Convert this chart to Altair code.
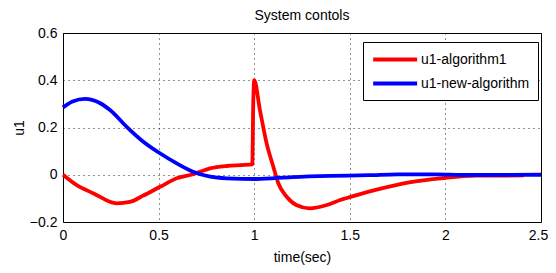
import altair as alt
import pandas as pd

# Series 1: u1-algorithm1 (red)
t_alg1 = [0, 0.07, 0.16, 0.28, 0.35, 0.42, 0.51, 0.595, 0.68, 0.77, 0.856, 0.93,
          0.99, 0.995, 1.0, 1.03, 1.065, 1.1, 1.126, 1.17, 1.22, 1.29, 1.38, 1.45,
          1.536, 1.64, 1.81, 1.99, 2.16, 2.41]
u_alg1 = [0, -0.043, -0.079, -0.121, -0.115, -0.088, -0.05, -0.015, 0.002, 0.027,
          0.037, 0.041, 0.044, 0.30, 0.40, 0.274, 0.133, 0.034, -0.036, -0.093,
          -0.128, -0.142, -0.128, -0.107, -0.086, -0.063, -0.032, -0.014, -0.004, -0.003]

# Series 2: u1-new-algorithm (blue)
t_new = [0, 0.05, 0.115, 0.19, 0.246, 0.333, 0.42, 0.507, 0.595, 0.68, 0.77, 0.856,
         1.01, 1.2, 1.4, 1.6, 1.75, 1.95, 2.1, 2.5]
u_new = [0.285, 0.31, 0.321, 0.305, 0.274, 0.203, 0.14, 0.091, 0.048, 0.013, -0.008,
         -0.015, -0.018, -0.01, -0.005, -0.002, 0.002, 0.002, -0.001, 0.0]

series_names = ["u1-algorithm1", "u1-new-algorithm"]
series_colors = ["#ff0000", "#0000ff"]

x_ticks = [0, 0.5, 1, 1.5, 2, 2.5]
y_ticks = [-0.2, 0, 0.2, 0.4, 0.6]

df = pd.concat([
    pd.DataFrame({"t": t_alg1, "u": u_alg1, "series": series_names[0], "k": range(len(t_alg1))}),
    pd.DataFrame({"t": t_new, "u": u_new, "series": series_names[1], "k": range(len(t_new))}),
])

FONT = "Liberation Sans"

chart = alt.Chart(df).mark_line(strokeWidth=3.8, interpolate="monotone").encode(
    x=alt.X("t:Q", scale=alt.Scale(domain=[0, 2.5], nice=False),
            axis=alt.Axis(title="time(sec)", values=x_ticks, format="~g",
                          labelOffset=alt.ExprRef("datum.value == 2.5 ? -3 : 0"))),
    y=alt.Y("u:Q", scale=alt.Scale(domain=[-0.2, 0.6], nice=False),
            axis=alt.Axis(title="u1", values=y_ticks, format="~g")),
    color=alt.Color("series:N",
                    scale=alt.Scale(domain=series_names, range=series_colors),
                    legend=alt.Legend(title=None, orient="none", legendX=300, legendY=9)),
    order="k:Q",
).properties(
    width=478, height=189,
    title=alt.TitleParams("System contols", fontSize=14, fontWeight="normal",
                          font=FONT, color="black", offset=3),
    autosize=alt.AutoSizeParams(type="none"),
    padding={"left": 55, "top": 25, "right": 7, "bottom": 43},
).configure_view(
    stroke="black", strokeWidth=1
).configure_axis(
    labelFont=FONT, titleFont=FONT, labelFontSize=14, titleFontSize=14,
    titleFontWeight="normal", labelColor="black", titleColor="black",
    domain=False, ticks=False, labelPadding=6, labelFlush=False,
    grid=True, gridColor="black", gridDash=[1, 4], gridOpacity=0.85, gridWidth=1,
).configure_axisY(
    titlePadding=3
).configure_axisX(
    titlePadding=8
).configure_legend(
    labelFont=FONT, labelFontSize=14, labelColor="black",
    strokeColor="black", fillColor="white", padding=8, cornerRadius=0,
    symbolType="M-1,0H5", symbolStrokeWidth=4, symbolSize=215, labelOffset=31,
    rowPadding=6,
)

chart.save("out.html", embed_options={"renderer": "svg", "actions": False})
